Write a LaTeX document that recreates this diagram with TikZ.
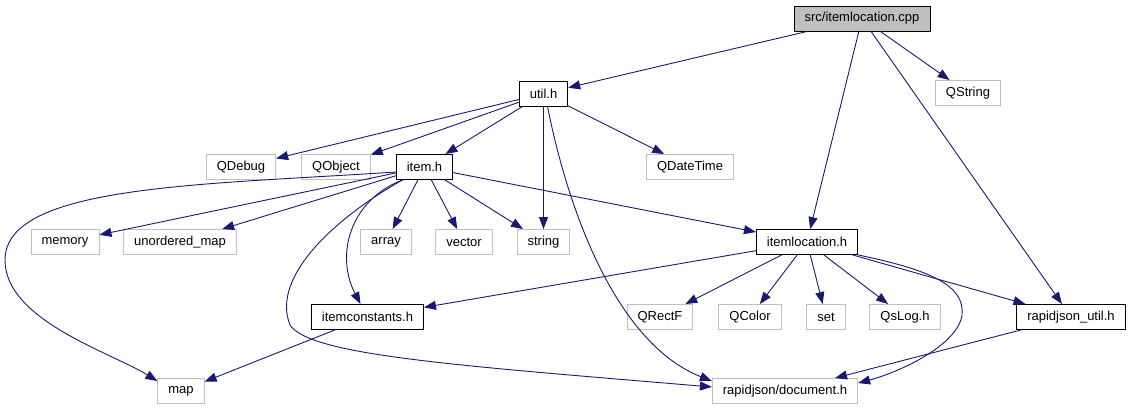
\documentclass[tikz,border=0pt]{standalone}
\usepackage{fontspec}
\setmainfont{Liberation Sans}
\usepackage{xcolor}
\usetikzlibrary{arrows.meta}
\definecolor{edgeblue}{HTML}{191970}
\definecolor{extgray}{HTML}{BFBFBF}
\tikzset{>={Triangle[length=12pt,width=9pt]}}

\begin{document}
\begin{tikzpicture}[x=1pt,y=-1pt,
  every node/.style={font=\fontsize{13}{15}\selectfont},
  file/.style={draw=black,fill=white,line width=0.9pt,minimum height=25pt,inner xsep=10.5pt,inner ysep=0pt},
  rootfile/.style={file,fill=extgray},
  extfile/.style={file,draw=extgray},
  dep/.style={->,draw=edgeblue,line width=0.9pt}]
\useasboundingbox (0,0) rectangle (1132,411);
\node[rootfile] (cpp) at (862,18.5) {src/itemlocation.cpp};
\node[file] (util) at (543.5,93.5) {util.h};
\node[extfile] (qstring) at (968,93) {QString};
\node[extfile] (qdebug) at (241,167) {QDebug};
\node[extfile] (qobject) at (336,167) {QObject};
\node[file] (item) at (424.5,167) {item.h};
\node[extfile] (qdatetime) at (690,167) {QDateTime};
\node[extfile] (memory) at (65,242) {memory};
\node[extfile] (umap) at (180,242) {unordered\_map};
\node[extfile] (array) at (386,242) {array};
\node[extfile] (vector) at (464,242) {vector};
\node[extfile] (string) at (543.5,242) {string};
\node[file] (itemloc) at (807,242) {itemlocation.h};
\node[file] (itemconst) at (367.5,317) {itemconstants.h};
\node[extfile] (qrectf) at (660,317) {QRectF};
\node[extfile] (qcolor) at (750,317) {QColor};
\node[extfile] (set) at (826,317) {set};
\node[extfile] (qslog) at (905,317) {QsLog.h};
\node[file] (rjutil) at (1071,317) {rapidjson\_util.h};
\node[extfile] (map) at (181,391) {map};
\node[extfile] (rjdoc) at (785,391) {rapidjson/document.h};

\draw[dep] (cpp) -- (util);
\draw[dep] (cpp) -- (itemloc);
\draw[dep] (cpp) -- (rjutil);
\draw[dep] (cpp) -- (qstring);
\draw[dep] (util) -- (qdebug);
\draw[dep] (util) -- (qobject);
\draw[dep] (util) -- (item);
\draw[dep] (util) -- (qdatetime);
\draw[dep] (util) -- (string);
\draw[dep] ([xshift=4pt]util.south) .. controls (570,220) and (620,345) .. ([yshift=-3pt]rjdoc.north west);
\draw[dep] (item) -- (memory);
\draw[dep] (item) -- (umap);
\draw[dep] (item) -- (array);
\draw[dep] (item) -- (vector);
\draw[dep] (item) -- (string);
\draw[dep] (item) -- (itemloc);
\draw[dep] ([yshift=-5pt]item.west) .. controls (200,185) and (5,185) .. (5,260)
  .. controls (5,320) and (110,352) .. ([yshift=-3pt]map.north west);
\draw[dep] ([xshift=-22pt]item.south) .. controls (350,200) and (335,255) .. ([xshift=-7pt]itemconst.north);
\draw[dep] ([xshift=-22pt]item.south) .. controls (340,215) and (270,275) .. (290,325)
  .. controls (310,355) and (450,365) .. ([yshift=4pt]rjdoc.west);
\draw[dep] (itemconst) -- (map);
\draw[dep] (itemloc) -- (itemconst);
\draw[dep] (itemloc) -- (qrectf);
\draw[dep] (itemloc) -- (qcolor);
\draw[dep] (itemloc) -- (set);
\draw[dep] (itemloc) -- (qslog);
\draw[dep] (itemloc) -- (rjutil);
\draw[dep] (itemloc.south east) .. controls (930,270) and (965,285) .. (962,315)
  .. controls (958,345) and (900,372) .. ([yshift=-5pt]rjdoc.north east);
\draw[dep] (rjutil) -- (rjdoc);
\end{tikzpicture}
\end{document}
